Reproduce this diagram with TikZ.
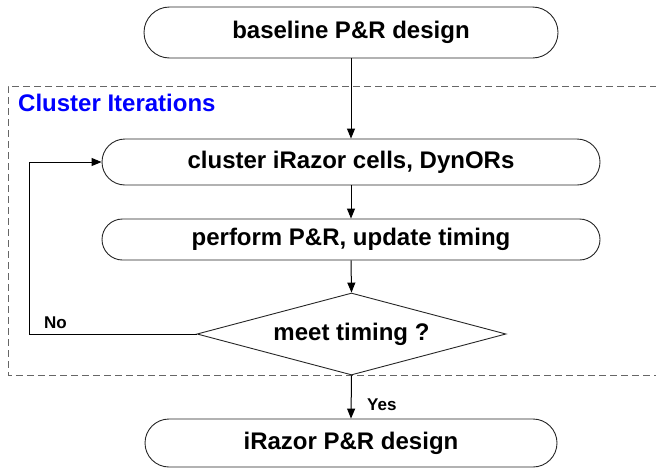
\documentclass[tikz,border=0pt]{standalone}
\usepackage{fontspec}
\setmainfont{Liberation Sans}
\usetikzlibrary{shapes.geometric,arrows.meta}
\begin{document}
\begin{tikzpicture}[x=1pt,y=-1pt,
  pill/.style={draw=black!85, line width=0.9pt, rounded corners=#1, inner sep=0pt, font=\bfseries\fontsize{24}{28}\selectfont},
  dec/.style={draw=black!85, line width=0.9pt, diamond, aspect=3.77, inner sep=0pt, minimum width=309pt, minimum height=82pt, font=\bfseries\fontsize{24}{28}\selectfont},
  flow/.style={draw=black, line width=1pt, -{Triangle[length=10pt,width=8pt]}},
  lbl/.style={font=\bfseries\fontsize{17}{20}\selectfont, inner sep=0pt},
  region/.style={draw=black!60, line width=1pt, dash pattern=on 7pt off 4pt}]
\useasboundingbox (0,0) rectangle (656,469);
% dashed cluster region (open on the right, clipped by page)
\draw[region] (657,86) -- (8,86) -- (8,375) -- (657,375);
\node[anchor=west, text=blue, font=\bfseries\fontsize{24}{28}\selectfont, inner sep=0pt] (title) at (18,103) {Cluster Iterations};
% nodes
\node[pill=25.5pt, minimum width=414pt, minimum height=51pt] (base) at (351,32.5) {baseline P\&R design};
\node[pill=23pt, minimum width=498pt, minimum height=46pt] (clus) at (351,162) {cluster iRazor cells, DynORs};
\node[pill=20.5pt, minimum width=498pt, minimum height=41pt] (perf) at (351,239.5) {perform P\&R, update timing};
\node[dec] (meet) at (351.5,334) {meet timing ?};
\node[pill=24pt, minimum width=412pt, minimum height=48pt] (final) at (351,443) {iRazor P\&R design};
\coordinate (back) at (29,334);
% connectors
\draw[flow] (base.south) -- (clus.north);
\draw[flow] (clus.south) -- (perf.north);
\draw[flow] (perf.south) -- (meet.north);
\draw[flow] (meet.south) -- (final.north);
\draw[flow] (meet.west) -- (back) |- (clus.west);
\node[lbl, anchor=west] (yes) at (367,405) {Yes};
\node[lbl, anchor=west] (no) at (44,323) {No};
\end{tikzpicture}
\end{document}
